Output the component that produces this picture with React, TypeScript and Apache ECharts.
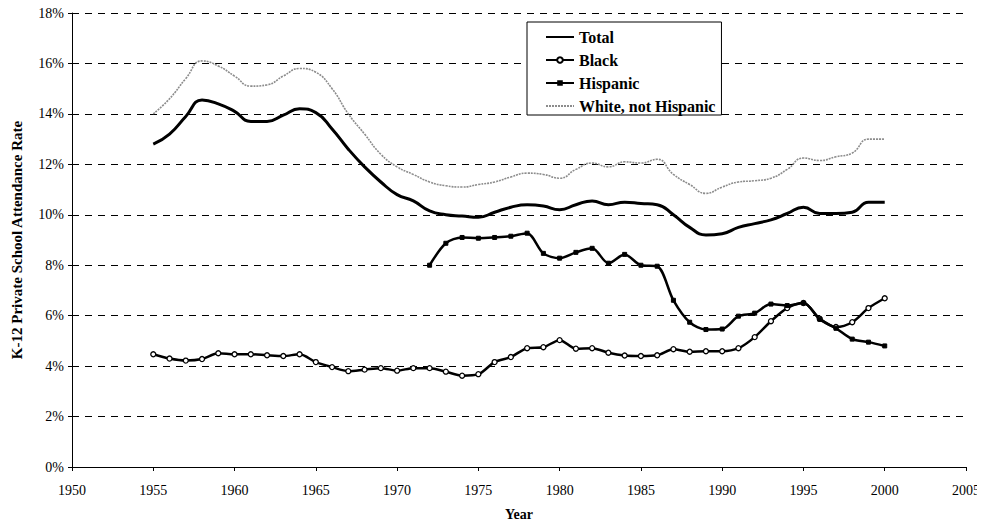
import React, { useEffect, useRef } from "react";
import * as echarts from "echarts";

const years = Array.from({ length: 46 }, (_, i) => 1955 + i);

const totalRate = [
  12.8, 13.2, 13.9, 14.55, 14.4, 14.1, 13.7, 13.7, 13.95, 14.2,
  14.05, 13.4, 12.6, 11.9, 11.3, 10.8, 10.55, 10.15, 10.0, 9.95,
  9.9, 10.1, 10.3, 10.4, 10.35, 10.2, 10.4, 10.55, 10.4, 10.5,
  10.45, 10.4, 10.0, 9.5, 9.2, 9.25, 9.5, 9.65, 9.8, 10.05,
  10.3, 10.05, 10.05, 10.1, 10.5, 10.5,
];

const blackRate = [
  4.47, 4.3, 4.22, 4.28, 4.51, 4.47, 4.47, 4.43, 4.4, 4.47,
  4.16, 3.96, 3.8, 3.86, 3.92, 3.82, 3.92, 3.92, 3.78, 3.62,
  3.68, 4.16, 4.36, 4.71, 4.75, 5.03, 4.69, 4.71, 4.53, 4.42,
  4.4, 4.43, 4.67, 4.57, 4.59, 4.59, 4.71, 5.15, 5.78, 6.3,
  6.5, 5.88, 5.55, 5.74, 6.3, 6.69,
];

const hispanicYears = Array.from({ length: 29 }, (_, i) => 1972 + i);
const hispanicRate = [
  8.0, 8.87, 9.1, 9.07, 9.1, 9.15, 9.27, 8.47, 8.28, 8.51,
  8.67, 8.08, 8.43, 8.0, 7.96, 6.61, 5.74, 5.45, 5.47, 5.98,
  6.1, 6.46, 6.4, 6.5, 5.86, 5.5, 5.07, 4.95, 4.8,
];

const whiteRate = [
  14.0, 14.6, 15.4, 16.1, 15.9, 15.5, 15.1, 15.15, 15.5, 15.8,
  15.65, 15.0, 14.0, 13.2, 12.4, 11.9, 11.6, 11.3, 11.15, 11.1,
  11.2, 11.3, 11.5, 11.65, 11.6, 11.45, 11.8, 12.05, 11.9, 12.1,
  12.05, 12.2, 11.6, 11.2, 10.85, 11.1, 11.3, 11.35, 11.45, 11.8,
  12.25, 12.15, 12.3, 12.45, 13.0, 13.0,
];

const seriesNames = ["Total", "Black", "Hispanic", "White, not Hispanic"];
const yTicks = [0, 2, 4, 6, 8, 10, 12, 14, 16, 18];

const FONT = "'Liberation Serif', 'Times New Roman', serif";

export default function App() {
  const ref = useRef<HTMLDivElement>(null);
  useEffect(() => {
    if (!ref.current) return;
    const chart = echarts.init(ref.current, undefined, { renderer: "svg" });
    const pair = (xs: number[], ys: number[]) => xs.map((x, i) => [x, ys[i]]);
    chart.setOption({
      animation: false,
      backgroundColor: "#fff",
      textStyle: { fontFamily: FONT, color: "#000" },
      grid: { left: 72, right: 19, top: 13, bottom: 61, outerBoundsMode: "none", containLabel: false },
      legend: {
        orient: "vertical",
        left: 527,
        top: 22,
        data: [
          { name: seriesNames[0], itemStyle: { opacity: 0 } },
          { name: seriesNames[1] },
          { name: seriesNames[2] },
          { name: seriesNames[3], itemStyle: { opacity: 0 } },
        ],
        backgroundColor: "#fff",
        borderColor: "#000",
        borderWidth: 1,
        borderRadius: 0,
        padding: [7, 6, 1, 18],
        itemWidth: 28,
        itemHeight: 7,
        itemGap: 7,
        textStyle: { fontFamily: FONT, fontWeight: "bold", fontSize: 16, color: "#000", lineHeight: 16 },
      },
      xAxis: {
        type: "value",
        min: 1950,
        max: 2005,
        interval: 5,
        name: "Year",
        nameLocation: "middle",
        nameGap: 40,
        nameTextStyle: { fontFamily: FONT, fontWeight: "bold", fontSize: 14, color: "#000" },
        axisLine: { lineStyle: { color: "#000", width: 1 } },
        axisTick: { show: true, length: 4, inside: false, lineStyle: { color: "#000" } },
        axisLabel: {
          fontFamily: FONT,
          fontSize: 14,
          color: "#000",
          margin: 16,
          formatter: (v: number) => String(v),
        },
        splitLine: { show: false },
      },
      yAxis: {
        type: "value",
        min: 0,
        max: 18,
        interval: 2,
        name: "K-12 Private School Attendance Rate",
        nameLocation: "middle",
        nameGap: 48,
        nameTextStyle: { fontFamily: FONT, fontWeight: "bold", fontSize: 15, color: "#000" },
        axisLine: { show: true, lineStyle: { color: "#000", width: 1 } },
        axisTick: { show: true, length: 4, lineStyle: { color: "#000" } },
        axisLabel: {
          fontFamily: FONT,
          fontSize: 14,
          color: "#000",
          margin: 8,
          formatter: (v: number) => (yTicks.includes(v) ? `${v}%` : ""),
        },
        splitLine: { show: true, lineStyle: { color: "#000", type: [7, 6], width: 1 } },
      },
      series: [
        {
          name: "Total",
          type: "line",
          smooth: 0.5,
          data: pair(years, totalRate),
          showSymbol: false,
          symbol: "none",
          lineStyle: { color: "#000", width: 3 },
          itemStyle: { color: "#000" },
          z: 4,
        },
        {
          name: "Black",
          type: "line",
          smooth: 0.3,
          data: pair(years, blackRate),
          symbol: "circle",
          symbolSize: 5,
          lineStyle: { color: "#000", width: 2.5 },
          itemStyle: { color: "#fff", borderColor: "#000", borderWidth: 1.3 },
          z: 3,
        },
        {
          name: "Hispanic",
          type: "line",
          smooth: 0.3,
          data: pair(hispanicYears, hispanicRate),
          symbol: "rect",
          symbolSize: 4,
          lineStyle: { color: "#000", width: 2.5 },
          itemStyle: { color: "#000", borderColor: "#000" },
          z: 3,
        },
        {
          name: "White, not Hispanic",
          type: "line",
          smooth: 0.5,
          data: pair(years, whiteRate),
          symbol: "none",
          lineStyle: { color: "#8c8c8c", width: 1.6, type: [2, 1] },
          itemStyle: { color: "#8c8c8c" },
          z: 2,
        },
      ],
    });
    return () => chart.dispose();
  }, []);
  return <div ref={ref} style={{ width: 985, height: 528, margin: -8 }} />;
}
